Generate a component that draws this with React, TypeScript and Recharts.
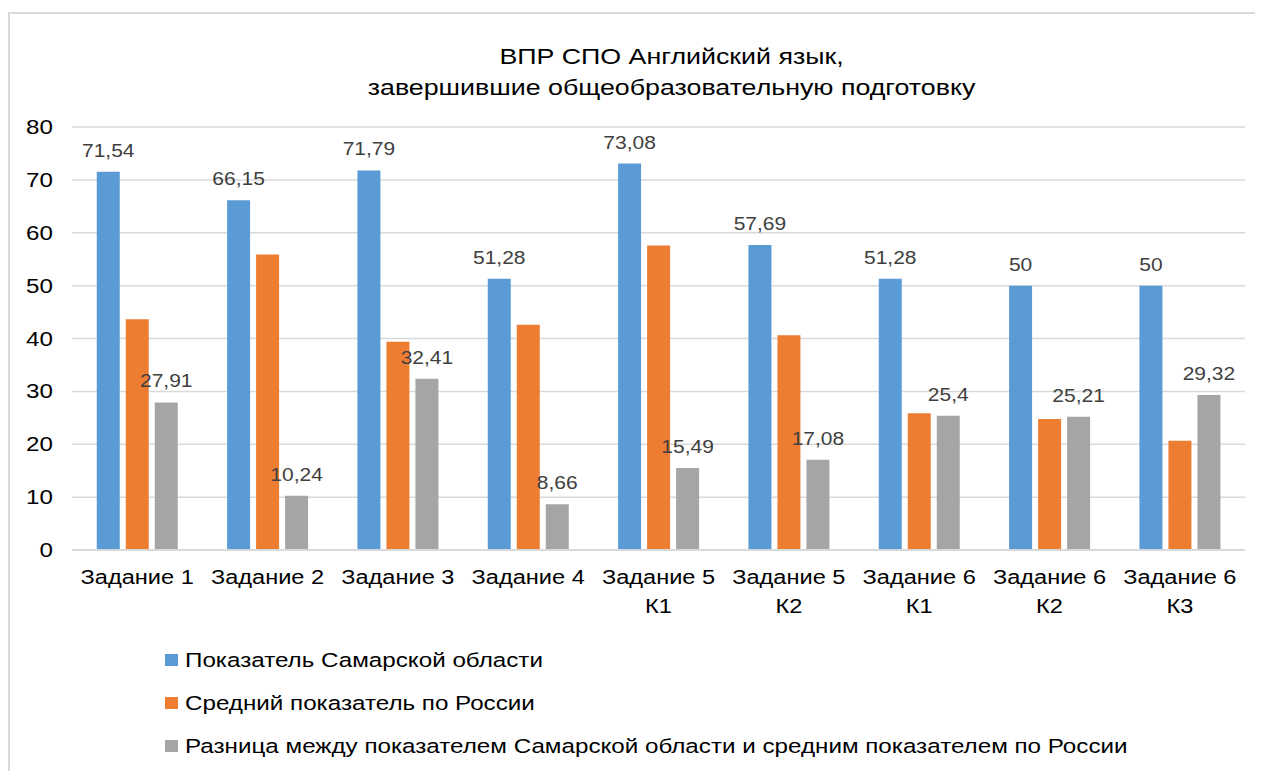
import React from 'react'
import { BarChart, Bar, XAxis, YAxis, CartesianGrid, LabelList } from 'recharts'

const categories = [
  'Задание 1',
  'Задание 2',
  'Задание 3',
  'Задание 4',
  'Задание 5\nК1',
  'Задание 5\nК2',
  'Задание 6\nК1',
  'Задание 6\nК2',
  'Задание 6\nК3',
]
const samaraValues = [71.54, 66.15, 71.79, 51.28, 73.08, 57.69, 51.28, 50, 50]
const russiaValues = [43.63, 55.91, 39.38, 42.62, 57.59, 40.61, 25.88, 24.79, 20.68]
const diffValues = [27.91, 10.24, 32.41, 8.66, 15.49, 17.08, 25.4, 25.21, 29.32]
const yTicks = [0, 10, 20, 30, 40, 50, 60, 70, 80]

const seriesNames = [
  'Показатель Самарской области',
  'Средний показатель по России',
  'Разница между показателем Самарской области и средним показателем по России',
]
const seriesColors = ['#5B9BD5', '#ED7D31', '#A5A5A5']

const rows = categories.map((name, i) => ({
  name,
  samara: samaraValues[i],
  russia: russiaValues[i],
  diff: diffValues[i],
}))

const FONT = '"Liberation Sans", Arial, sans-serif'

const fmt = (v: unknown) => String(v).replace('.', ',')

// the source picture's text is a bit wider than Arial, so stretch it horizontally
function CategoryTick(props: any) {
  const { x, y, payload } = props
  const lines = String(payload.value).split('\n')
  return (
    <g transform={`translate(${x},${y}) scale(1.21,1)`}>
      <text x={0} y={0} textAnchor="middle" fontSize={19.5} fontFamily={FONT} fill="#000">
        {lines.map((l, i) => (
          <tspan key={i} x={0} dy={i === 0 ? 34 : 29}>
            {l}
          </tspan>
        ))}
      </text>
    </g>
  )
}

function ValueTick(props: any) {
  const { x, y, payload } = props
  return (
    <g transform={`translate(${x + 1},${y}) scale(1.24,1)`}>
      <text x={0} y={0} dy={7} textAnchor="end" fontSize={19.5} fontFamily={FONT} fill="#000">
        {payload.value}
      </text>
    </g>
  )
}

function BarValueLabel(props: any) {
  const { x = 0, y = 0, width = 0, value } = props
  const cx = Number(x) + Number(width) / 2
  return (
    <g transform={`translate(${cx},${Number(y) - 15}) scale(1.13,1)`}>
      <text x={0} y={0} textAnchor="middle" fontSize={18.6} fontFamily={FONT} fill="#404040">
        {fmt(value)}
      </text>
    </g>
  )
}

export default function App() {
  return (
    <div
      style={{
        position: 'relative',
        marginTop: 4,
        width: 1253,
        height: 757,
        borderTop: '2px solid #d9d9d9',
        borderLeft: '2px solid #d9d9d9',
        fontFamily: FONT,
      }}
    >
      <div
        style={{
          position: 'absolute',
          left: 0,
          top: 27,
          width: 1323,
          textAlign: 'center',
          fontSize: 22.5,
          lineHeight: '31px',
          color: '#000',
          transform: 'scaleX(1.19)',
          transformOrigin: 'center',
        }}
      >
        ВПР СПО Английский язык,
        <br />
        завершившие общеобразовательную подготовку
      </div>
      <BarChart
        width={1253}
        height={757}
        data={rows}
        margin={{ top: 113, right: 18, left: 0, bottom: 161 }}
        barCategoryGap="19%"
        barGap={6}
      >
        <CartesianGrid vertical={false} stroke="#d9d9d9" strokeWidth={1.5} />
        <XAxis
          dataKey="name"
          height={60}
          interval={0}
          tickLine={false}
          tickSize={0}
          tickMargin={0}
          axisLine={{ stroke: '#d9d9d9', strokeWidth: 2 }}
          tick={<CategoryTick />}
        />
        <YAxis
          domain={[0, 80]}
          ticks={yTicks}
          width={62}
          axisLine={false}
          tickLine={false}
          tickSize={0}
          tickMargin={20}
          tick={<ValueTick />}
        />
        <Bar dataKey="samara" fill={seriesColors[0]} isAnimationActive={false}>
          <LabelList dataKey="samara" content={<BarValueLabel />} />
        </Bar>
        <Bar dataKey="russia" fill={seriesColors[1]} isAnimationActive={false} />
        <Bar dataKey="diff" fill={seriesColors[2]} isAnimationActive={false}>
          <LabelList dataKey="diff" content={<BarValueLabel />} />
        </Bar>
      </BarChart>
      <div style={{ position: 'absolute', left: 155, top: 624 }}>
        {seriesNames.map((n, i) => (
          <div
            key={n}
            style={{ display: 'flex', alignItems: 'center', height: 43, fontSize: 20.5, color: '#000' }}
          >
            <span
              style={{
                display: 'inline-block',
                width: 13,
                height: 12,
                background: seriesColors[i],
                marginRight: 7,
              }}
            />
            <span
              style={{
                display: 'inline-block',
                whiteSpace: 'nowrap',
                transform: 'scaleX(1.18)',
                transformOrigin: 'left center',
              }}
            >
              {n}
            </span>
          </div>
        ))}
      </div>
    </div>
  )
}
